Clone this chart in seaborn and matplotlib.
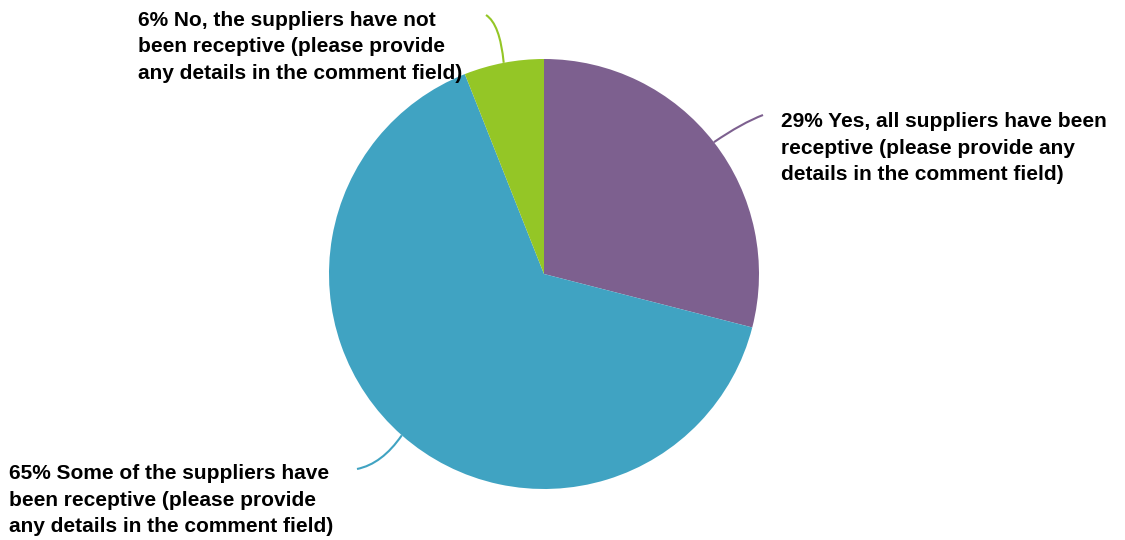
import numpy as np
import matplotlib
matplotlib.use("Agg")
import matplotlib.pyplot as plt
from matplotlib.path import Path
from matplotlib.patches import PathPatch
import seaborn as sns

# Survey responses, in drawing order (clockwise from 12 o'clock)
categories = [
    "Yes, all suppliers have been\nreceptive (please provide any\ndetails in the comment field)",
    "Some of the suppliers have\nbeen receptive (please provide\nany details in the comment field)",
    "No, the suppliers have not\nbeen receptive (please provide\nany details in the comment field)",
]
shares = [29, 65, 6]
palette = ["#7D608F", "#40A3C2", "#94C626"]

sns.set_theme(style="white")
plt.rcParams["font.family"] = ["Liberation Sans", "DejaVu Sans"]

W, H = 1125, 540
fig = plt.figure(figsize=(W / 100, H / 100), dpi=100)
ax = fig.add_axes([0, 0, 1, 1])

cx, cy, r = 544, H - 274, 215
wedges, _ = ax.pie(shares, colors=palette, startangle=90, counterclock=False,
                   center=(cx, cy), radius=r, frame=True,
                   wedgeprops=dict(linewidth=0))
ax.set_xlim(0, W)
ax.set_ylim(0, H)
ax.axis("off")

# label placement: (text x, text center y in pixels from top, leader end, control point)
label_pos = [
    (781, 148, (763, 115), (742, 123)),
    (9, 500, (357, 469), (382, 464)),
    (138, 47, (486, 15), (500, 24)),
]

for w, share, cat, col, (tx, ty, end, ctrl) in zip(wedges, shares, categories, palette, label_pos):
    mid = np.deg2rad((w.theta1 + w.theta2) / 2)
    sx, sy = cx + r * np.cos(mid), cy + r * np.sin(mid)
    path = Path([(sx, sy), (ctrl[0], H - ctrl[1]), (end[0], H - end[1])],
                [Path.MOVETO, Path.CURVE3, Path.CURVE3])
    ax.add_patch(PathPatch(path, facecolor="none", edgecolor=col, linewidth=1.5))
    ax.text(tx, H - ty, f"{share}% {cat}", ha="left", va="center",
            fontsize=15, fontweight="bold", color="black", linespacing=1.47)

fig.savefig("out.png", dpi=100)
